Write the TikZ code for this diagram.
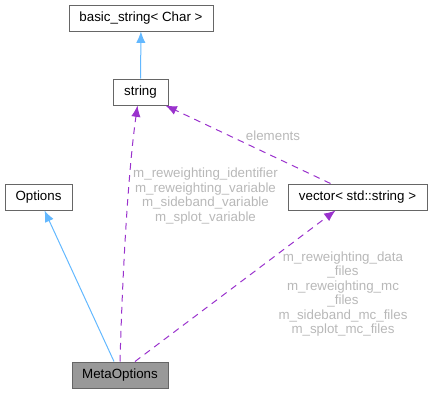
\documentclass[tikz,border=0pt]{standalone}
\usepackage{fontspec}
\setmainfont{Liberation Sans}
\usetikzlibrary{arrows.meta,calc}
\definecolor{inhblue}{HTML}{63B8FF}
\definecolor{usepurple}{HTML}{9A32CD}
\definecolor{boxborder}{HTML}{666666}
\definecolor{lblgray}{HTML}{B8B8B8}
\definecolor{metafill}{HTML}{999999}
\tikzset{
  cls/.style={draw=boxborder, fill=white, line width=0.75pt, minimum height=19.5pt, inner sep=0pt, font=\fontsize{10}{12}\selectfont, text=black},
  inh/.style={draw=inhblue, line width=0.75pt, -{Latex[length=8.5pt,width=7pt]}},
  usage/.style={draw=usepurple, line width=0.75pt, dash pattern=on 5pt off 4pt, -{Latex[length=8.5pt,width=7pt]}},
  lbl/.style={text=lblgray, align=center, font=\fontsize{10}{10.9}\selectfont, inner sep=0pt}
}
\begin{document}
\begin{tikzpicture}[x=0.75pt,y=-0.75pt]
\useasboundingbox (0,0) rectangle (432,393);
\node[cls, minimum width=108pt] (basic) at (141,18) {basic\_string< Char >};
\node[cls, minimum width=41.25pt] (string) at (140.5,92) {string};
\node[cls, minimum width=50.25pt] (options) at (38.5,197) {Options};
\node[cls, minimum width=104.25pt] (vector) at (357.5,197) {vector< std::string >};
\node[cls, minimum width=72pt, fill=metafill] (meta) at (120,375) {MetaOptions};

\draw[inh] (string) -- (basic);
\draw[inh] ($(meta.north)+(-6,0)$) -- ($(options.south)+(6,0)$);
\draw[usage] (meta.north) .. controls (122,290) and (127,180) .. ($(string.south)+(-3,0)$);
\draw[usage] ($(meta.north)+(15,0)$) -- ($(vector.south)+(-22,0)$);
\draw[usage] ($(vector.north)+(-27,0)$) -- ($(string.south east)+(-3,0)$);

\node[lbl] (lelem) at (273,135.5) {elements};
\node[lbl] (lstr) at (205.5,196) {m\_reweighting\_identifier\\m\_reweighting\_variable\\m\_sideband\_variable\\m\_splot\_variable};
\node[lbl] (lvec) at (343,294) {m\_reweighting\_data\hspace{3pt}\\\_files\\m\_reweighting\_mc\hspace{12pt}\\\_files\\m\_sideband\_mc\_files\\m\_splot\_mc\_files};
\end{tikzpicture}
\end{document}
